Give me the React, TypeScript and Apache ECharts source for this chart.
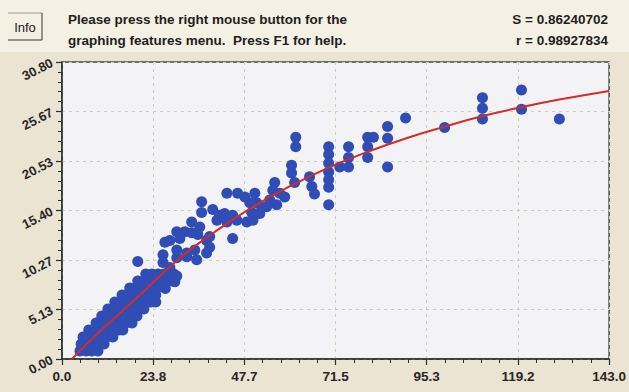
import React, { useEffect, useRef } from "react";
import * as echarts from "echarts";

const xTickLabels = ["0.0", "23.8", "47.7", "71.5", "95.3", "119.2", "143.0"];
const yTickLabels = ["0.00", "5.13", "10.27", "15.40", "20.53", "25.67", "30.80"];
const xMax = 143.0;
const yMax = 30.8;

const headerLine1 = "Please press the right mouse button for the";
const headerLine2 = "graphing features menu.  Press F1 for help.";
const statS = "S = 0.86240702";
const statR = "r = 0.98927834";

// dense lower-left cluster
const denseCluster: number[][] = [
  [4.7, 0.83], [6.3, 0.83], [7.8, 0.83], [9.4, 0.83],
  [5.0, 1.56], [6.5, 1.56], [8.1, 1.56], [9.7, 1.56], [11.0, 1.56],
  [5.5, 2.28], [7.0, 2.28], [8.6, 2.28], [10.2, 2.28], [11.7, 2.28], [13.3, 2.28],
  [7.0, 3.01], [8.6, 3.01], [10.2, 3.01], [11.7, 3.01], [13.3, 3.01], [14.9, 3.01], [15.9, 3.01],
  [8.9, 3.73], [10.4, 3.73], [12.0, 3.73], [13.6, 3.73], [15.1, 3.73], [16.7, 3.73], [18.3, 3.73],
  [10.4, 4.46], [12.0, 4.46], [13.6, 4.46], [15.1, 4.46], [16.7, 4.46], [18.3, 4.46], [19.6, 4.46],
  [12.0, 5.19], [13.6, 5.19], [15.1, 5.19], [16.7, 5.19], [18.3, 5.19], [19.8, 5.19], [21.4, 5.19],
  [13.8, 5.91], [15.4, 5.91], [17.0, 5.91], [18.5, 5.91], [20.1, 5.91], [21.7, 5.91], [23.2, 5.91], [24.5, 5.91],
  [15.7, 6.64], [17.2, 6.64], [18.8, 6.64], [20.4, 6.64], [21.9, 6.64], [23.5, 6.64], [24.5, 6.64],
  [17.7, 7.36], [19.3, 7.36], [20.9, 7.36], [22.4, 7.36], [24.0, 7.36], [24.8, 7.36],
  [19.8, 8.09], [21.4, 8.09], [23.0, 8.09], [24.5, 8.09], [26.1, 8.09], [27.7, 8.09], [28.7, 8.09],
  [21.9, 8.81], [23.5, 8.81], [25.1, 8.81], [26.6, 8.81], [28.2, 8.81], [29.2, 8.81],
];

// middle band of points
const middlePoints: number[][] = [
  [29.5, 8.0], [27.0, 7.3], [30.0, 8.6],
  [26.4, 10.8], [26.4, 10.0], [28.2, 9.5], [30.0, 10.5], [32.6, 10.6], [35.2, 10.3],
  [19.8, 10.1],
  [30.0, 11.3], [32.6, 11.0], [34.7, 11.3], [37.8, 11.0], [38.6, 11.6],
  [26.9, 12.1], [28.2, 12.3],
  [37.8, 12.3], [38.6, 12.7], [44.6, 12.5],
  [30.0, 13.2], [32.1, 13.2], [30.8, 12.5], [33.9, 13.1], [35.5, 12.9], [36.0, 13.7],
  [33.9, 14.2],
  [40.5, 14.4], [43.1, 14.2], [45.7, 14.4], [48.3, 14.2], [49.9, 14.4],
  [39.4, 15.5], [41.2, 14.9], [42.5, 15.1], [44.6, 14.9],
  [36.5, 16.3], [36.5, 15.2],
  [43.1, 17.2], [45.9, 17.2], [47.8, 16.8],
  [50.4, 17.2], [50.9, 16.2], [51.7, 15.1], [49.1, 16.2], [49.6, 15.2], [52.2, 15.7],
  [55.6, 18.3], [55.1, 17.5], [56.9, 17.2], [54.3, 16.5], [56.1, 16.0], [53.5, 15.8], [58.2, 16.8],
];

// upper, sparser points
const upperPoints: number[][] = [
  [60.0, 20.1], [60.0, 19.3], [60.8, 18.3],
  [61.1, 23.0], [61.1, 22.0],
  [64.7, 18.9], [65.3, 17.9], [66.0, 17.1],
  [69.7, 22.0], [69.7, 21.2], [69.7, 20.3], [69.7, 19.4], [69.7, 18.6], [69.7, 17.8], [69.7, 16.0],
  [72.6, 19.9],
  [74.9, 22.0], [74.9, 20.9], [74.9, 19.9],
  [79.9, 23.0], [81.4, 23.0], [79.9, 22.0], [79.9, 20.9],
  [85.1, 24.1], [85.1, 22.9], [85.1, 19.9],
  [89.8, 25.0],
  [100.0, 24.0],
  [109.9, 27.1], [109.9, 26.0], [109.9, 24.9],
  [120.1, 27.9], [120.1, 25.9],
  [130.0, 24.9],
];

// fitted curve
const curveX = [2.6, 10, 20, 30, 40, 50, 60, 70, 80, 90, 100, 110, 120, 130, 143];
const curveY = [0, 2.9, 6.5, 10.2, 13.2, 15.8, 18.0, 19.9, 21.5, 22.9, 24.1, 25.2, 26.1, 26.9, 27.8];

const FONT = "'Liberation Sans', Arial, sans-serif";

export default function App() {
  const ref = useRef<HTMLDivElement>(null);
  useEffect(() => {
    if (!ref.current) return;
    const chart = echarts.init(ref.current, undefined, { renderer: "svg" });
    const xStep = xMax / 6;
    const yStep = yMax / 6;
    const scatterData = [...denseCluster, ...middlePoints, ...upperPoints];
    const curveData = curveX.map((x, i) => [x, curveY[i]]);
    chart.setOption({
      animation: false,
      backgroundColor: "#ebe4d2",
      grid: {
        left: 62,
        top: 62,
        width: 548,
        height: 297,
        show: true,
        backgroundColor: "#f3f3f5",
        borderColor: "#3e4b4b",
        borderWidth: 1.5,
      },
      xAxis: {
        type: "value",
        min: 0,
        max: xMax,
        interval: xStep,
        axisLine: { show: true, onZero: false, lineStyle: { color: "#2a2f2f", width: 1.5 } },
        axisTick: { show: true, length: 6, lineStyle: { color: "#2a2f2f", width: 1.2 } },
        minorTick: { show: true, splitNumber: 5, length: 4, lineStyle: { color: "#2a2f2f", width: 1 } },
        splitLine: { show: true, lineStyle: { color: "#d3cbb8", type: [3, 4], width: 1 } },
        axisLabel: {
          margin: 10,
          fontFamily: FONT,
          fontWeight: "bold",
          fontSize: 13.5,
          color: "#262626",
          formatter: (v: number) => xTickLabels[Math.round(v / xStep)] ?? "",
        },
      },
      yAxis: {
        type: "value",
        min: 0,
        max: yMax,
        interval: yStep,
        axisLine: { show: true, onZero: false, lineStyle: { color: "#2a2f2f", width: 1.5 } },
        axisTick: { show: true, length: 6, lineStyle: { color: "#2a2f2f", width: 1.2 } },
        minorTick: { show: true, splitNumber: 5, length: 4, lineStyle: { color: "#2a2f2f", width: 1 } },
        splitLine: { show: true, lineStyle: { color: "#d3cbb8", type: [3, 4], width: 1 } },
        axisLabel: {
          margin: 10,
          rotate: 27,
          fontFamily: FONT,
          fontWeight: "bold",
          fontSize: 13,
          color: "#262626",
          formatter: (v: number) => yTickLabels[Math.round(v / yStep)] ?? "",
        },
      },
      graphic: [
        { type: "rect", left: 0, top: 0, shape: { width: 629, height: 52 }, style: { fill: "#f4f0e3" }, silent: true },
        { type: "line", shape: { x1: 8, y1: 13, x2: 42, y2: 13 }, style: { stroke: "#9a9a9a", lineWidth: 1 } },
        { type: "line", shape: { x1: 42, y1: 13, x2: 42, y2: 40 }, style: { stroke: "#333", lineWidth: 1 } },
        { type: "line", shape: { x1: 8, y1: 40, x2: 42, y2: 40 }, style: { stroke: "#333", lineWidth: 1 } },
        { type: "text", x: 25, y: 27, style: { text: "Info", font: `13px ${FONT}`, fill: "#222", align: "center", verticalAlign: "middle" } },
        { type: "text", x: 68, y: 19, style: { text: headerLine1, font: `bold 13.5px ${FONT}`, fill: "#1e1e1e", verticalAlign: "middle" } },
        { type: "text", x: 68, y: 40, style: { text: headerLine2, font: `bold 13.5px ${FONT}`, fill: "#1e1e1e", verticalAlign: "middle" } },
        { type: "text", x: 608, y: 19, style: { text: statS, font: `bold 13.5px ${FONT}`, fill: "#1e1e1e", align: "right", verticalAlign: "middle" } },
        { type: "text", x: 608, y: 40, style: { text: statR, font: `bold 13.5px ${FONT}`, fill: "#1e1e1e", align: "right", verticalAlign: "middle" } },
      ],
      series: [
        {
          type: "scatter",
          data: scatterData,
          symbol: "circle",
          symbolSize: 11,
          itemStyle: { color: "#2f4db5", opacity: 1 },
          z: 2,
        },
        {
          type: "line",
          data: curveData,
          smooth: true,
          showSymbol: false,
          lineStyle: { color: "#d42b2b", width: 2 },
          z: 3,
        },
      ],
    });
    return () => chart.dispose();
  }, []);
  return <div ref={ref} style={{ position: "fixed", left: 0, top: 0, width: 629, height: 392 }} />;
}
